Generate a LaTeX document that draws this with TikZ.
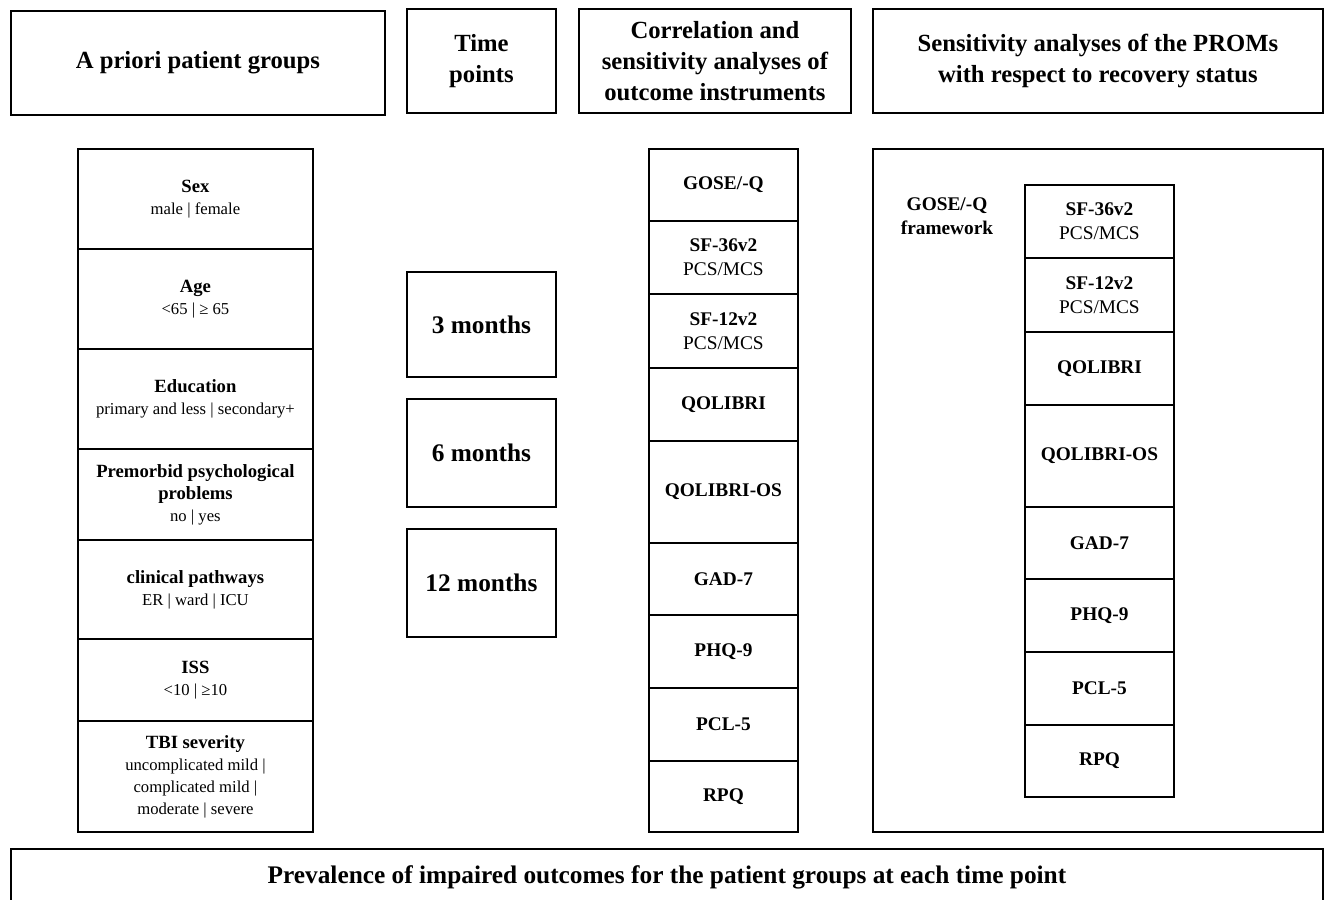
\documentclass[tikz,border=0pt]{standalone}
\usepackage{fontspec}
\setmainfont{Liberation Serif}
\newcommand\lbold[1]{{\fontsize{14}{16.5}\selectfont\bfseries #1}}
\begin{document}
\begin{tikzpicture}[x=0.75pt,y=-0.75pt,
  box/.style={draw, line width=1.4pt, inner sep=2pt, align=center, anchor=north west},
  sz/.style 2 args={minimum width=#1*0.75pt, minimum height=#2*0.75pt},
  hdr/.style={box, font=\fontsize{18.5}{23.5}\selectfont\bfseries},
  lft/.style={box, sz={235}{#1}, font=\fontsize{12.5}{16.5}\selectfont},
  mid/.style={box, sz={149}{#1}, font=\fontsize{14.5}{18}\selectfont},
  tim/.style={box, sz={149}{#1}, font=\fontsize{19}{23}\selectfont\bfseries}]
\useasboundingbox (0,0) rectangle (1326,899);
\clip (0,0) rectangle (1326,899);
% headers
\node[hdr, sz={374}{104}] (h1) at (10,10) {A priori patient groups};
\node[hdr, sz={149}{104}] (h2) at (406,8) {Time\\points};
\node[hdr, sz={272}{104}] (h3) at (578,8) {Correlation and\\sensitivity analyses of\\outcome instruments};
\node[hdr, sz={450}{104}] (h4) at (872,8) {Sensitivity analyses of the PROMs\\with respect to recovery status};
% left column
\node[lft=100] (sex) at (77,148) {\lbold{Sex}\\male | female};
\node[lft=100] (age) at (77,248) {\lbold{Age}\\<65 | ≥ 65};
\node[lft=100] (edu) at (77,348) {\lbold{Education}\\primary and less | secondary+};
\node[lft=91] (pre) at (77,448) {\lbold{Premorbid psychological}\\\lbold{problems}\\no | yes};
\node[lft=99] (clin) at (77,539) {\lbold{clinical pathways}\\ER | ward | ICU};
\node[lft=82] (iss) at (77,638) {\lbold{ISS}\\<10 | ≥10};
\node[lft=111] (tbi) at (77,720) {\lbold{TBI severity}\\uncomplicated mild |\\complicated mild |\\moderate | severe};
% time points
\node[tim=105] (t3) at (406,271) {3 months};
\node[tim=108] (t6) at (406,398) {6 months};
\node[tim=108] (t12) at (406,528) {12 months};
% middle column
\node[mid=72] (m1) at (648,148) {\textbf{GOSE/-Q}};
\node[mid=73] (m2) at (648,220) {\textbf{SF-36v2}\\PCS/MCS};
\node[mid=74] (m3) at (648,293) {\textbf{SF-12v2}\\PCS/MCS};
\node[mid=73] (m4) at (648,367) {\textbf{QOLIBRI}};
\node[mid=102] (m5) at (648,440) {\textbf{QOLIBRI-OS}};
\node[mid=72] (m6) at (648,542) {\textbf{GAD-7}};
\node[mid=73] (m7) at (648,614) {\textbf{PHQ-9}};
\node[mid=73] (m8) at (648,687) {\textbf{PCL-5}};
\node[mid=71] (m9) at (648,760) {\textbf{RPQ}};
% right panel
\node[box, sz={450}{683}] (rp) at (872,148) {};
\node[align=center, font=\fontsize{14.5}{18}\selectfont\bfseries] (fw) at (947,216) {GOSE/-Q\\framework};
\node[mid=73] (r1) at (1024,184) {\textbf{SF-36v2}\\PCS/MCS};
\node[mid=74] (r2) at (1024,257) {\textbf{SF-12v2}\\PCS/MCS};
\node[mid=73] (r3) at (1024,331) {\textbf{QOLIBRI}};
\node[mid=102] (r4) at (1024,404) {\textbf{QOLIBRI-OS}};
\node[mid=72] (r5) at (1024,506) {\textbf{GAD-7}};
\node[mid=73] (r6) at (1024,578) {\textbf{PHQ-9}};
\node[mid=73] (r7) at (1024,651) {\textbf{PCL-5}};
\node[mid=72] (r8) at (1024,724) {\textbf{RPQ}};
% bottom
\node[box, sz={1312}{56}, font=\fontsize{19}{23}\selectfont\bfseries] (bot) at (10,848) {Prevalence of impaired outcomes for the patient groups at each time point};
\end{tikzpicture}
\end{document}
